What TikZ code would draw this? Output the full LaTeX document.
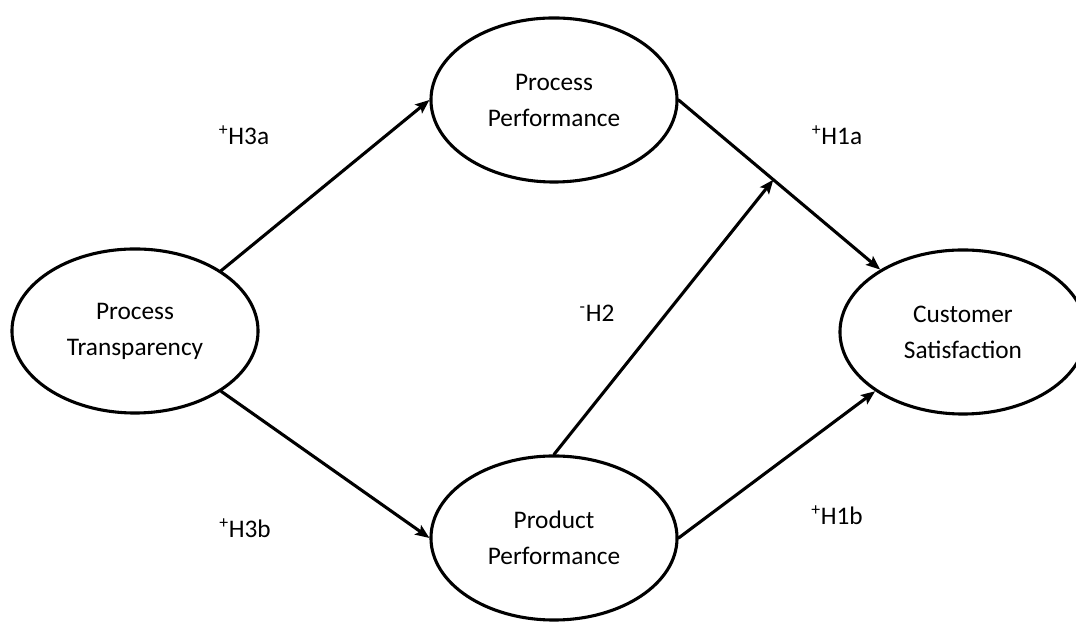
\documentclass[tikz,border=0pt]{standalone}
\usepackage{fontspec}
\setmainfont{Carlito}
\usepackage{tikz}
\usetikzlibrary{arrows.meta,shapes.geometric}

\begin{document}
\begin{tikzpicture}[x=0.025cm,y=0.025cm,>={Stealth[length=10pt,width=8pt,inset=2pt]},
  font=\fontsize{18}{25.6}\selectfont,line cap=round,
  construct/.style={draw,ellipse,line width=2.2pt,minimum width=6.15cm,minimum height=4.1cm,inner sep=0pt,align=center},
  path/.style={->,line width=2.2pt},
  hyp/.style={inner sep=0pt}]
\useasboundingbox (0,0) rectangle (1076,622);
\node[construct] (tra) at (135,291) {Process\\Transparency};
\node[construct] (pcp) at (554,522) {Process\\Performance};
\node[construct] (prp) at (554,84) {Product\\Performance};
\node[construct] (cs) at (963,290) {Customer\\Satisfaction};
\draw[path] (tra.35) -- (pcp.west);
\draw[path] (tra.-35) -- (prp.west);
\draw[path] (pcp.east) -- coordinate[pos=0.47] (mod) (cs.143);
\draw[path] (prp.east) -- (cs.-146);
\draw[path] (prp.north) -- (mod);
% hypothesis labels
\node[hyp] (h3a) at (244,487) {\textsuperscript{+}H3a};
\node[hyp] (h1a) at (837,487) {\textsuperscript{+}H1a};
\node[hyp] (h2) at (597,309) {\textsuperscript{-}H2};
\node[hyp] (h3b) at (245,94) {\textsuperscript{+}H3b};
\node[hyp] (h1b) at (837,107) {\textsuperscript{+}H1b};
\end{tikzpicture}
\end{document}
